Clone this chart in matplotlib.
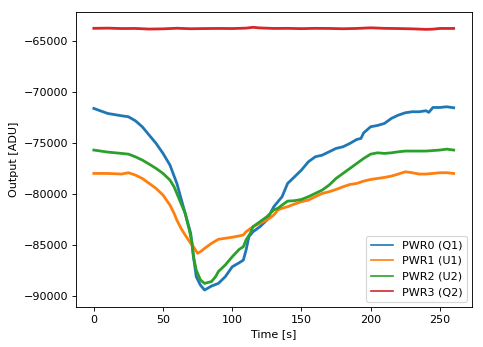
import numpy as np
import matplotlib.pyplot as plt

# PWR0 (Q1)
t0 = [0, 10, 20, 25, 30, 35, 40, 45, 50, 55, 60, 63, 66, 70, 72, 74, 77, 80, 85, 90,
      95, 100, 105, 108, 110, 112, 115, 120, 125, 130, 133, 136, 140, 145, 150, 155,
      160, 165, 170, 175, 180, 185, 190, 193, 195, 200, 205, 210, 215, 220, 225, 230,
      235, 240, 242, 245, 250, 255, 260]
pwr0 = [-71625, -72115, -72343, -72440, -72830, -73420, -74240, -75050, -76030, -77170,
        -78970, -80440, -81900, -83860, -86150, -88100, -88920, -89410, -89020, -88760,
        -88100, -87130, -86740, -86480, -85500, -84190, -83700, -83210, -82560, -81250,
        -80760, -80270, -78970, -78320, -77660, -76850, -76360, -76200, -75870, -75540,
        -75380, -75050, -74660, -74560, -74010, -73420, -73290, -73090, -72600, -72280,
        -72050, -71950, -71950, -71850, -72010, -71530, -71530, -71460, -71560]

# PWR1 (U1)
t1 = [0, 10, 20, 25, 30, 35, 40, 45, 50, 55, 58, 60, 63, 66, 70, 72, 75, 78, 80, 85,
      90, 95, 100, 105, 108, 110, 115, 120, 125, 130, 133, 136, 140, 145, 150, 155,
      160, 165, 170, 175, 180, 185, 190, 195, 200, 205, 210, 215, 220, 225, 230, 235,
      240, 245, 250, 255, 260]
pwr1 = [-77990, -77990, -78050, -77920, -78150, -78480, -78970, -79460, -80110, -81090,
        -81900, -82560, -83370, -84020, -84840, -85170, -85820, -85560, -85330, -84840,
        -84440, -84340, -84240, -84110, -84020, -83700, -83210, -82880, -82560, -82070,
        -81560, -81400, -81250, -80990, -80760, -80600, -80270, -79950, -79780, -79560,
        -79300, -79070, -78970, -78740, -78580, -78480, -78380, -78250, -78050, -77830,
        -77920, -78050, -78050, -77990, -77920, -77920, -77990]

# PWR2 (U2)
t2 = [0, 10, 20, 25, 30, 35, 40, 45, 50, 55, 58, 60, 63, 66, 69, 71, 72, 74, 77, 80,
      85, 88, 90, 95, 100, 105, 108, 110, 113, 115, 120, 125, 130, 133, 136, 140, 145,
      150, 155, 160, 165, 170, 175, 180, 185, 190, 195, 200, 205, 210, 215, 220, 225,
      230, 240, 250, 255, 260]
pwr2 = [-75700, -75900, -76030, -76100, -76360, -76680, -77080, -77500, -77990, -78640,
        -79300, -79950, -80930, -81900, -83530, -84830, -86150, -87450, -88420, -88760,
        -88580, -88100, -87600, -86950, -86150, -85430, -85170, -84500, -83860, -83210,
        -82720, -82230, -81560, -81400, -81090, -80700, -80660, -80540, -80270, -79950,
        -79620, -79130, -78480, -77990, -77500, -77010, -76520, -76100, -75970, -76030,
        -75970, -75870, -75800, -75800, -75800, -75700, -75610, -75700]

# PWR3 (Q2)
t3 = [0, 10, 20, 30, 40, 50, 60, 70, 80, 90, 100, 110, 115, 120, 130, 140, 150, 160,
      170, 180, 190, 200, 210, 220, 230, 240, 245, 250, 260]
pwr3 = [-63780, -63760, -63800, -63790, -63850, -63830, -63770, -63820, -63800, -63790,
        -63800, -63760, -63680, -63740, -63790, -63780, -63810, -63780, -63790, -63820,
        -63790, -63730, -63780, -63800, -63830, -63880, -63860, -63790, -63790]

fig = plt.figure(figsize=(483 / 80, 347 / 80), dpi=80)
ax = fig.add_axes([0.157, 0.115, 0.821, 0.851])

ax.plot(t0, pwr0, color='tab:blue', lw=2.5, label='PWR0 (Q1)')
ax.plot(t1, pwr1, color='tab:orange', lw=2.5, label='PWR1 (U1)')
ax.plot(t2, pwr2, color='tab:green', lw=2.5, label='PWR2 (U2)')
ax.plot(t3, pwr3, color='tab:red', lw=2.5, label='PWR3 (Q2)')

ax.set_xlim(-13, 273.5)
ax.set_ylim(-91080, -62160)
ax.set_xticks([0, 50, 100, 150, 200, 250])
ax.set_yticks([-90000, -85000, -80000, -75000, -70000, -65000])
ax.set_xlabel('Time [s]')
ax.set_ylabel('Output [ADU]')
leg = ax.legend(loc='lower right')
for line in leg.get_lines():
    line.set_linewidth(1.5)

fig.savefig('out.png', dpi=80)
